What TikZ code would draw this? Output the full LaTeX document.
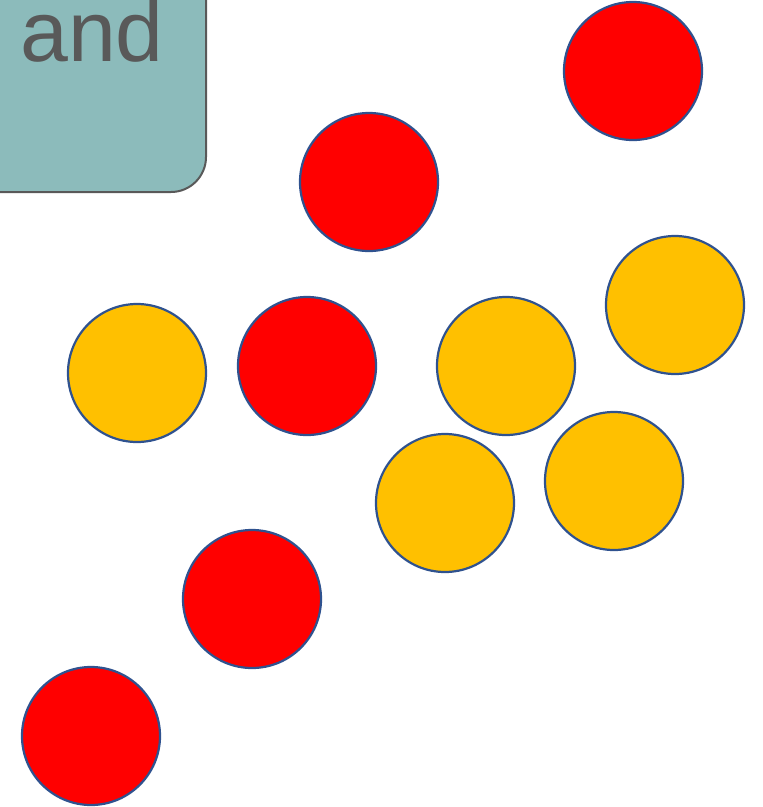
\documentclass[tikz,border=0pt]{standalone}
\usepackage{fontspec}
\setmainfont{Liberation Sans}
\definecolor{boxfill}{HTML}{8CBBBB}
\definecolor{boxline}{HTML}{595959}
\definecolor{ringblue}{HTML}{2F528F}
\definecolor{ambr}{HTML}{FFC000}
\begin{document}
\begin{tikzpicture}[x=1pt,y=-1pt,
  dot/.style={circle,draw=ringblue,line width=2.2pt,minimum size=138pt,inner sep=0pt},
  reddot/.style={dot,fill=red},
  amberdot/.style={dot,fill=ambr}]
\useasboundingbox (0,0) rectangle (763,807);
\clip (0,0) rectangle (763,807);
\draw[fill=boxfill,draw=boxline,line width=2pt,rounded corners=35pt] (-60,-60) rectangle (206,192);
\node[anchor=base west,inner sep=0pt,text=boxline,font=\fontsize{86}{86}\selectfont] (t) at (20,61) {and};
\node[reddot] (r1) at (633,71) {};
\node[reddot] (r2) at (369,182) {};
\node[reddot] (r3) at (307,366) {};
\node[reddot] (r4) at (252,599) {};
\node[reddot] (r5) at (91,736) {};
\node[amberdot] (a1) at (137,373) {};
\node[amberdot] (a2) at (506,366) {};
\node[amberdot] (a3) at (675,305) {};
\node[amberdot] (a4) at (614,481) {};
\node[amberdot] (a5) at (445,503) {};
\end{tikzpicture}
\end{document}
